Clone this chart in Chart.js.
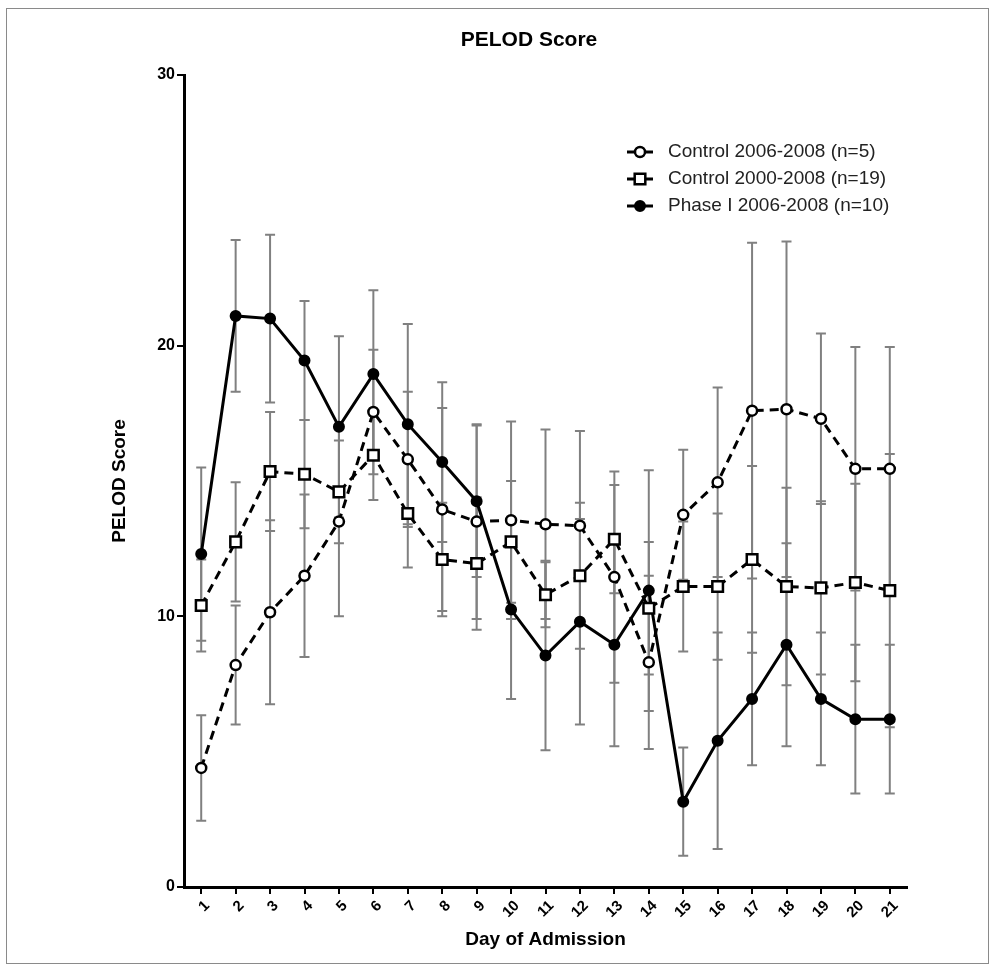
<!DOCTYPE html>
<html><head><meta charset="utf-8">
<script src="https://cdn.jsdelivr.net/npm/chart.js@4.4.1/dist/chart.umd.min.js"></script>
<style>html,body{margin:0;padding:0;background:#fff;}canvas{display:block;}</style>
</head><body>
<canvas id="c" width="995" height="966"></canvas>
<script>
const days = ['1','2','3','4','5','6','7','8','9','10','11','12','13','14','15','16','17','18','19','20','21'];
const yTicks = [0, 10, 20, 30];
const seriesNames = ['Control 2006-2008 (n=5)', 'Control 2000-2008 (n=19)', 'Phase I 2006-2008 (n=10)'];
const ctrl0608Mean = [4.4, 8.2, 10.15, 11.5, 13.5, 17.55, 15.8, 13.95, 13.5, 13.55, 13.4, 13.35, 11.45, 8.3, 13.75, 14.95, 17.6, 17.65, 17.3, 15.45, 15.45];
const ctrl0608Err  = [1.95, 2.2, 3.4, 3.0, 3.5, 2.3, 2.5, 3.75, 3.6, 3.65, 3.5, 3.5, 3.9, 3.2, 2.4, 3.5, 6.2, 6.2, 3.15, 4.5, 4.5];
const ctrl0008Mean = [10.4, 12.75, 15.35, 15.25, 14.6, 15.95, 13.8, 12.1, 11.95, 12.75, 10.8, 11.5, 12.85, 10.3, 11.1, 11.1, 12.1, 11.1, 11.05, 11.25, 10.95];
const ctrl0008Err  = [1.7, 2.2, 2.2, 2.0, 1.9, 1.65, 2.0, 2.1, 2.45, 2.25, 1.2, 2.7, 2.0, 2.45, 2.4, 2.7, 3.45, 3.65, 3.2, 3.65, 5.05];
const phaseMean    = [12.3, 21.1, 21.0, 19.45, 17.0, 18.95, 17.1, 15.7, 14.25, 10.25, 8.55, 9.8, 8.95, 10.95, 3.15, 5.4, 6.95, 8.95, 6.95, 6.2, 6.2];
const phaseErr     = [3.2, 2.8, 3.1, 2.2, 3.35, 3.1, 3.7, 2.95, 2.8, 3.3, 3.5, 3.8, 3.75, 4.45, 2.0, 4.0, 2.45, 3.75, 2.45, 2.75, 2.75];

const FONT = '"Liberation Sans", Arial, Helvetica, sans-serif';

const errorBarPlugin = {
  id: 'errorBars',
  beforeDatasetsDraw(chart) {
    const ctx = chart.ctx, ys = chart.scales.y;
    ctx.save();
    ctx.strokeStyle = '#808080';
    ctx.lineWidth = 2;
    chart.data.datasets.forEach((ds, i) => {
      const meta = chart.getDatasetMeta(i);
      meta.data.forEach((pt, j) => {
        const m = ds.data[j], e = ds.errorBars[j];
        const yt = ys.getPixelForValue(m + e), yb = ys.getPixelForValue(m - e);
        ctx.beginPath();
        ctx.moveTo(pt.x, yt); ctx.lineTo(pt.x, yb);
        ctx.moveTo(pt.x - 5, yt); ctx.lineTo(pt.x + 5, yt);
        ctx.moveTo(pt.x - 5, yb); ctx.lineTo(pt.x + 5, yb);
        ctx.stroke();
      });
    });
    ctx.restore();
  }
};

const decorPlugin = {
  id: 'decor',
  afterDraw(chart) {
    const ctx = chart.ctx, a = chart.chartArea;
    ctx.save();
    ctx.strokeStyle = '#8a8a8a'; ctx.lineWidth = 1;
    ctx.strokeRect(6.5, 8.5, 982, 955);
    ctx.fillStyle = '#000';
    ctx.font = 'bold 21px ' + FONT;
    ctx.textAlign = 'center'; ctx.textBaseline = 'middle';
    ctx.fillText('PELOD Score', a.left + 345, a.top - 35);
    const x0 = a.left + 443, y0 = a.top + 77, row = 27;
    chart.data.datasets.forEach((ds, i) => {
      const yy = y0 + i * row;
      ctx.setLineDash([]);
      ctx.strokeStyle = '#000'; ctx.lineWidth = 3;
      ctx.beginPath(); ctx.moveTo(x0, yy); ctx.lineTo(x0 + 26, yy); ctx.stroke();
      ctx.fillStyle = ds.pointBackgroundColor;
      ctx.strokeStyle = ds.pointBorderColor;
      ctx.lineWidth = ds.pointBorderWidth;
      Chart.helpers.drawPoint(ctx, {pointStyle: ds.pointStyle, radius: ds.pointRadius, borderWidth: ds.pointBorderWidth, rotation: 0}, x0 + 13, yy);
      ctx.fillStyle = '#222';
      ctx.font = '19px ' + FONT;
      ctx.textAlign = 'left'; ctx.textBaseline = 'middle';
      ctx.fillText(ds.label, x0 + 41, yy);
    });
    ctx.restore();
  }
};

new Chart(document.getElementById('c'), {
  type: 'line',
  data: {
    labels: days,
    datasets: [
      { label: seriesNames[0], data: ctrl0608Mean, errorBars: ctrl0608Err,
        borderColor: '#000', borderWidth: 3, borderDash: [9, 6], tension: 0,
        pointStyle: 'circle', pointRadius: 5, pointBorderWidth: 2.5,
        pointBackgroundColor: '#fff', pointBorderColor: '#000' },
      { label: seriesNames[1], data: ctrl0008Mean, errorBars: ctrl0008Err,
        borderColor: '#000', borderWidth: 3, borderDash: [9, 6], tension: 0,
        pointStyle: 'rect', pointRadius: 7.5, pointBorderWidth: 2.5,
        pointBackgroundColor: '#fff', pointBorderColor: '#000' },
      { label: seriesNames[2], data: phaseMean, errorBars: phaseErr,
        borderColor: '#000', borderWidth: 3, tension: 0,
        pointStyle: 'circle', pointRadius: 5, pointBorderWidth: 2,
        pointBackgroundColor: '#000', pointBorderColor: '#000' }
    ]
  },
  options: {
    responsive: false,
    animation: false,
    devicePixelRatio: 1,
    layout: { padding: { left: 104, right: 88, top: 75, bottom: 11 } },
    plugins: { legend: { display: false }, title: { display: false }, tooltip: { enabled: false } },
    scales: {
      x: {
        type: 'category', offset: true,
        grid: { display: true, offset: false, drawOnChartArea: false, drawTicks: true, tickLength: 7, color: '#000', lineWidth: 2 },
        border: { display: true, color: '#000', width: 3 },
        ticks: { color: '#000', font: { family: FONT, size: 15, weight: 'bold' }, minRotation: 45, maxRotation: 45, padding: 3, labelOffset: 6, autoSkip: false },
        title: { display: true, text: 'Day of Admission', color: '#000', font: { family: FONT, size: 19, weight: 'bold' }, padding: { top: 4, bottom: 4 } },
        afterFit: s => { s.height = 68; }
      },
      y: {
        min: yTicks[0], max: yTicks[yTicks.length - 1],
        afterBuildTicks: s => { s.ticks = yTicks.map(v => ({ value: v })); },
        grid: { display: true, drawOnChartArea: false, drawTicks: true, tickLength: 7, color: '#000', lineWidth: 2 },
        border: { display: true, color: '#000', width: 3 },
        ticks: { color: '#000', font: { family: FONT, size: 16, weight: 'bold' }, padding: 2 },
        title: { display: true, text: 'PELOD Score', color: '#000', font: { family: FONT, size: 19, weight: 'bold' }, padding: { top: 4, bottom: 4 } },
        afterFit: s => { s.width = 80; }
      }
    }
  },
  plugins: [errorBarPlugin, decorPlugin]
});
</script>
</body></html>
